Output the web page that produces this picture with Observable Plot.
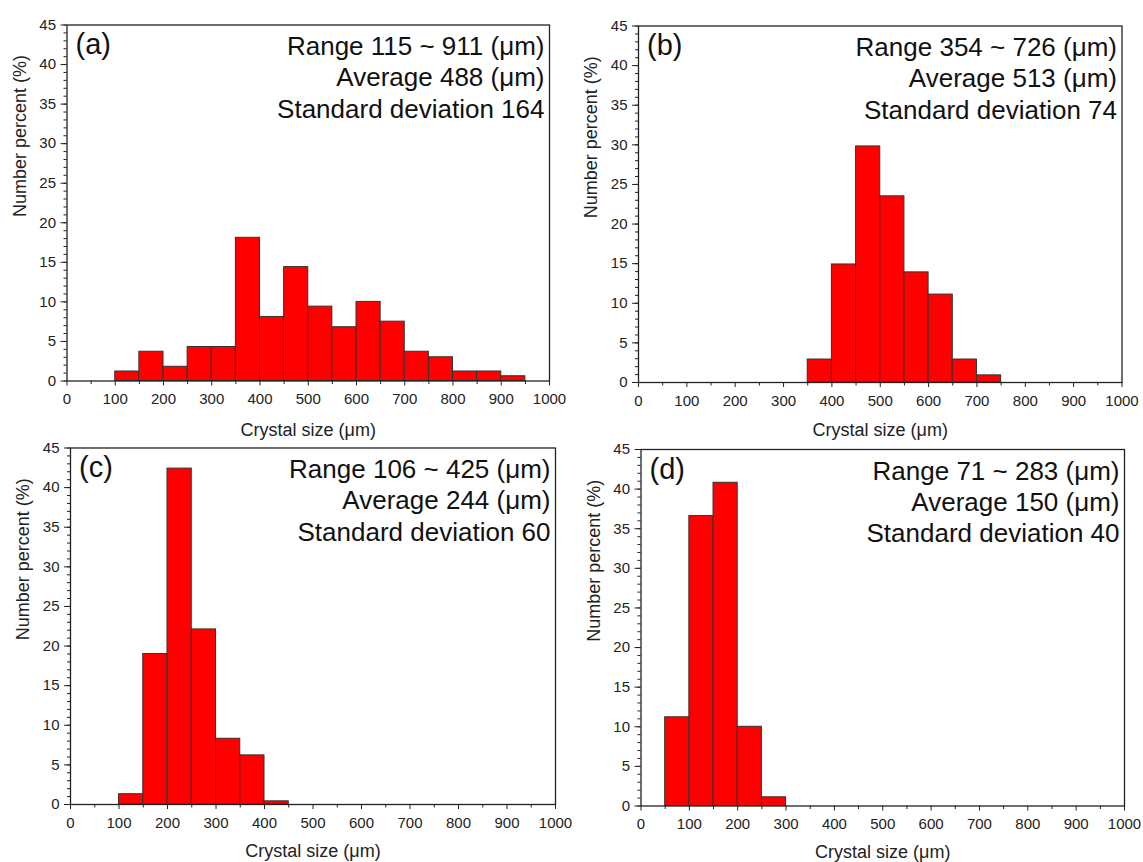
<!DOCTYPE html>
<html>
<head>
<meta charset="utf-8">
<script src="https://cdn.jsdelivr.net/npm/d3@7"></script>
<script src="https://cdn.jsdelivr.net/npm/@observablehq/plot@0.6"></script>
<style>
  body { margin: 0; background: #fff; }
  #root { position: relative; width: 1143px; height: 862px; overflow: hidden; background: #fff;
          font-family: "Liberation Sans", Arial, sans-serif; }
  #root svg { position: absolute; overflow: visible; }
</style>
</head>
<body>
<div id="root"></div>
<script>
// ---- data ----
const binWidth = 50;
const binStartA = [100, 150, 200, 250, 300, 350, 400, 450, 500, 550, 600, 650, 700, 750, 800, 850, 900];
const pctA      = [1.2, 3.7, 1.8, 4.3, 4.3, 18.1, 8.1, 14.4, 9.4, 6.8, 10.0, 7.5, 3.7, 3.0, 1.2, 1.2, 0.6];
const binStartB = [350, 400, 450, 500, 550, 600, 650, 700];
const pctB      = [2.9, 14.9, 29.8, 23.5, 13.9, 11.1, 2.9, 0.9];
const binStartC = [100, 150, 200, 250, 300, 350, 400];
const pctC      = [1.3, 19.0, 42.4, 22.1, 8.3, 6.2, 0.4];
const binStartD = [50, 100, 150, 200, 250];
const pctD      = [11.2, 36.6, 40.8, 10.0, 1.1];

const panelLabels = ["(a)", "(b)", "(c)", "(d)"];
const rangeLines = ["Range 115 ~ 911 (μm)", "Range 354 ~ 726 (μm)", "Range 106 ~ 425 (μm)", "Range 71 ~ 283 (μm)"];
const averageLines = ["Average 488 (μm)", "Average 513 (μm)", "Average 244 (μm)", "Average 150 (μm)"];
const sdLines = ["Standard deviation 164", "Standard deviation 74", "Standard deviation 60", "Standard deviation 40"];

const xMajorTicks = [0, 100, 200, 300, 400, 500, 600, 700, 800, 900, 1000];
const xMinorTicks = [50, 150, 250, 350, 450, 550, 650, 750, 850, 950];
const yMajorTicks = [0, 5, 10, 15, 20, 25, 30, 35, 40, 45];
const yMinorTicks = d3.range(0, 46, 1);

const xLabel = "Crystal size (μm)";
const yLabel = "Number percent (%)";

// ---- layout ----
const binStarts = [binStartA, binStartB, binStartC, binStartD];
const pcts = [pctA, pctB, pctC, pctD];
const panels = [
  {ox: 0,   oy: 0,   W: 571, H: 431, fx0: 66.5,  fx1: 549,    fy0: 24.5,  fy1: 380.5, xl: 54.5},
  {ox: 571, oy: 0,   W: 572, H: 431, fx0: 638,   fx1: 1121.5, fy0: 25.5,  fy1: 382,   xl: 53.5},
  {ox: 0,   oy: 431, W: 571, H: 431, fx0: 70,    fx1: 555,    fy0: 447.5, fy1: 804,   xl: 52.5},
  {ox: 571, oy: 431, W: 572, H: 431, fx0: 640.5, fx1: 1124,   fy0: 449,   fy1: 805.5, xl: 51.5}
];

const root = document.getElementById("root");
const fmt = d3.format("d");

panels.forEach((P, i) => {
  const data = binStarts[i].map((x, j) => ({x1: x, x2: x + binWidth, y: pcts[i][j]}));
  const svg = Plot.plot({
    width: P.W,
    height: P.H,
    marginLeft: P.fx0 - P.ox,
    marginRight: P.ox + P.W - P.fx1,
    marginTop: P.fy0 - P.oy,
    marginBottom: P.oy + P.H - P.fy1,
    style: {fontFamily: "'Liberation Sans', Arial, sans-serif", fontSize: "15px", color: "#222",
            background: "transparent", overflow: "visible"},
    x: {domain: [0, 1000]},
    y: {domain: [0, 45]},
    marks: [
      Plot.rectY(data, {x1: "x1", x2: "x2", y: "y", fill: "#ff0000", stroke: "#333", strokeWidth: 1}),
      Plot.axisX({ticks: xMinorTicks, tickSize: 3.5, tickFormat: () => "", label: null}),
      Plot.axisX({ticks: xMajorTicks, tickSize: 5, tickPadding: 7.5, tickFormat: fmt, fontSize: 15, label: null}),
      Plot.axisY({ticks: yMinorTicks, tickSize: 3, tickFormat: () => "", label: null}),
      Plot.axisY({ticks: yMajorTicks, tickSize: 6, tickPadding: 5, tickFormat: fmt, fontSize: 15, label: null}),
      Plot.frame({stroke: "#222", strokeWidth: 1.3}),
      Plot.text([xLabel], {frameAnchor: "bottom", lineAnchor: "bottom", dy: P.xl, fontSize: 18, fill: "#222"}),
      Plot.text([yLabel], {frameAnchor: "left", lineAnchor: "middle", rotate: -90, dx: -47, dy: 14, fontSize: 18, fill: "#222"}),
      Plot.text([panelLabels[i]], {frameAnchor: "top-left", lineAnchor: "top", dx: 8.5, dy: 8.5, fontSize: 29, fill: "#111"}),
      Plot.text([rangeLines[i] + "\n" + averageLines[i] + "\n" + sdLines[i]],
        {frameAnchor: "top-right", textAnchor: "end", lineAnchor: "top", dx: -5, dy: 8, fontSize: 26, lineHeight: 1.2, fill: "#111"})
    ]
  });
  svg.style.left = P.ox + "px";
  svg.style.top = P.oy + "px";
  root.appendChild(svg);
});
</script>
</body>
</html>
